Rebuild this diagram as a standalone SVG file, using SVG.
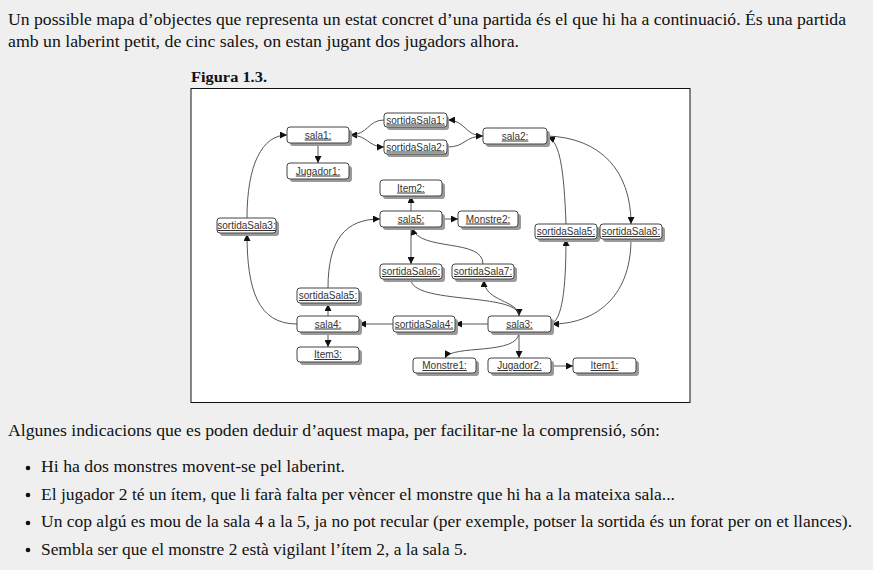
<svg xmlns="http://www.w3.org/2000/svg" width="873" height="570" viewBox="0 0 873 570">
<style>
.pg{font-family:"Liberation Serif","DejaVu Serif",serif;font-size:16px;fill:#111}
.fig{font-family:"Liberation Serif","DejaVu Serif",serif;font-size:14.5px;font-weight:bold;fill:#111}
.box{fill:#fff;stroke:#444;stroke-width:1}
.sh{fill:#9a9a9a}
.lb{font-family:"Liberation Sans",Arial,sans-serif;font-size:10px;fill:#333;text-anchor:middle;text-decoration:underline}
.c{fill:none;stroke:#444;stroke-width:0.9}
</style>
<defs>
<marker id="ar" viewBox="0 0 8 8" refX="8" refY="4" markerWidth="7" markerHeight="7" markerUnits="userSpaceOnUse" orient="auto">
<path d="M0,0 L8,4 L0,8 z" fill="#111"/>
</marker>
</defs>
<rect width="873" height="570" fill="#efefef"/>
<text class="pg" x="8" y="25" textLength="838" lengthAdjust="spacingAndGlyphs">Un possible mapa d’objectes que representa un estat concret d’una partida és el que hi ha a continuació. És una partida</text>
<text class="pg" x="8" y="47" textLength="511" lengthAdjust="spacingAndGlyphs">amb un laberint petit, de cinc sales, on estan jugant dos jugadors alhora.</text>
<text class="fig" x="191" y="82" textLength="76" lengthAdjust="spacingAndGlyphs">Figura 1.3.</text>
<rect x="191" y="88.5" width="499" height="314" fill="#fff" stroke="#111" stroke-width="1"/>

<g id="connectors">
<path class="c" marker-end="url(#ar)" d="M318,143 L318,163"/>
<path class="c" marker-end="url(#ar)" d="M384,120 C368,120 368,135 350,135"/>
<path class="c" marker-end="url(#ar)" d="M350,135 C368,135 368,147 384,147"/>
<path class="c" marker-end="url(#ar)" d="M483,136 C465,136 465,120 448,120"/>
<path class="c" marker-end="url(#ar)" d="M448,147 C465,147 465,136 483,136"/>
<path class="c" marker-end="url(#ar)" d="M247,218 C247,165 262,135 287,135"/>
<path class="c" marker-end="url(#ar)" d="M297,324 C258,324 247,290 247,234"/>
<path class="c" marker-end="url(#ar)" d="M328,316 L328,304"/>
<path class="c" marker-end="url(#ar)" d="M328,288 C328,240 345,219 380,219"/>
<path class="c" marker-end="url(#ar)" d="M328,332 L328,347"/>
<path class="c" marker-end="url(#ar)" d="M393,324 L359,324"/>
<path class="c" marker-end="url(#ar)" d="M488,324 L455,324"/>
<path class="c" marker-end="url(#ar)" d="M411,211 L411,196"/>
<path class="c" marker-end="url(#ar)" d="M442,219 L458,219"/>
<path class="c" marker-end="url(#ar)" d="M411,227 L411,264"/>
<path class="c" marker-end="url(#ar)" d="M483,264 C483,238 420,252 412,228"/>
<path class="c" marker-end="url(#ar)" d="M411,279 C411,305 519,292 519,316"/>
<path class="c" marker-end="url(#ar)" d="M519,316 C519,300 484,302 484,280"/>
<path class="c" marker-end="url(#ar)" d="M551,324 C562,320 566,290 566,239"/>
<path class="c" marker-end="url(#ar)" d="M566,224 C564,170 560,142 548,137"/>
<path class="c" marker-end="url(#ar)" d="M548,136 C600,138 631,170 631,224"/>
<path class="c" marker-end="url(#ar)" d="M631,239 C631,300 592,324 552,324"/>
<path class="c" marker-end="url(#ar)" d="M519,332 C519,356 452,344 445,358"/>
<path class="c" marker-end="url(#ar)" d="M519,332 L519,358"/>
<path class="c" marker-end="url(#ar)" d="M551,366 L573,366"/>
</g>

<g id="sala1"><rect class="sh" x="290" y="130" width="62" height="16" rx="3"/><rect class="box" x="287" y="127" width="62" height="16" rx="3"/><text class="lb" x="318" y="138.5">sala1:</text></g>
<g id="jugador1"><rect class="sh" x="290" y="166" width="62" height="16" rx="3"/><rect class="box" x="287" y="163" width="62" height="16" rx="3"/><text class="lb" x="318" y="174.5">Jugador1:</text></g>
<g id="sortidaSala1"><rect class="sh" x="387" y="116" width="62" height="14" rx="3"/><rect class="box" x="384" y="113" width="63" height="14" rx="3"/><text class="lb" x="415.5" y="123.5">sortidaSala1:</text></g>
<g id="sortidaSala2"><rect class="sh" x="387" y="143" width="62" height="14" rx="3"/><rect class="box" x="384" y="140" width="63" height="14" rx="3"/><text class="lb" x="415.5" y="150.5">sortidaSala2:</text></g>
<g id="sala2"><rect class="sh" x="486" y="131" width="64" height="16" rx="3"/><rect class="box" x="483" y="128" width="64" height="16" rx="3"/><text class="lb" x="515" y="139.5">sala2:</text></g>
<g id="item2"><rect class="sh" x="383" y="183" width="62" height="16" rx="3"/><rect class="box" x="380" y="180" width="62" height="16" rx="3"/><text class="lb" x="411" y="191.5">Item2:</text></g>
<g id="sala5"><rect class="sh" x="383" y="214" width="62" height="16" rx="3"/><rect class="box" x="380" y="211" width="62" height="16" rx="3"/><text class="lb" x="411" y="222.5">sala5:</text></g>
<g id="monstre2"><rect class="sh" x="461" y="214" width="60" height="16" rx="3"/><rect class="box" x="458" y="211" width="60" height="16" rx="3"/><text class="lb" x="488" y="222.5">Monstre2:</text></g>
<g id="sortidaSala3"><rect class="sh" x="220" y="221" width="59" height="15" rx="3"/><rect class="box" x="217" y="218" width="59" height="15" rx="3"/><text class="lb" x="246.5" y="229">sortidaSala3:</text></g>
<g id="sortidaSala5b"><rect class="sh" x="538" y="227" width="62" height="15" rx="3"/><rect class="box" x="535" y="224" width="62" height="15" rx="3"/><text class="lb" x="566" y="235">sortidaSala5:</text></g>
<g id="sortidaSala8"><rect class="sh" x="603" y="227" width="62" height="15" rx="3"/><rect class="box" x="600" y="224" width="62" height="15" rx="3"/><text class="lb" x="631" y="235">sortidaSala8:</text></g>
<g id="sortidaSala6"><rect class="sh" x="383" y="267" width="62" height="15" rx="3"/><rect class="box" x="380" y="264" width="62" height="15" rx="3"/><text class="lb" x="411" y="275">sortidaSala6:</text></g>
<g id="sortidaSala7"><rect class="sh" x="455" y="267" width="62" height="15" rx="3"/><rect class="box" x="452" y="264" width="62" height="15" rx="3"/><text class="lb" x="483" y="275">sortidaSala7:</text></g>
<g id="sortidaSala5a"><rect class="sh" x="300" y="291" width="62" height="15" rx="3"/><rect class="box" x="297" y="288" width="62" height="15" rx="3"/><text class="lb" x="328" y="299">sortidaSala5:</text></g>
<g id="sala4"><rect class="sh" x="300" y="319" width="62" height="16" rx="3"/><rect class="box" x="297" y="316" width="62" height="16" rx="3"/><text class="lb" x="328" y="327.5">sala4:</text></g>
<g id="sortidaSala4"><rect class="sh" x="396" y="319" width="62" height="16" rx="3"/><rect class="box" x="393" y="316" width="62" height="16" rx="3"/><text class="lb" x="424" y="327.5">sortidaSala4:</text></g>
<g id="sala3"><rect class="sh" x="491" y="319" width="63" height="16" rx="3"/><rect class="box" x="488" y="316" width="63" height="16" rx="3"/><text class="lb" x="519.5" y="327.5">sala3:</text></g>
<g id="item3"><rect class="sh" x="300" y="350" width="62" height="15" rx="3"/><rect class="box" x="297" y="347" width="62" height="15" rx="3"/><text class="lb" x="328" y="358">Item3:</text></g>
<g id="monstre1"><rect class="sh" x="416" y="361" width="63" height="15" rx="3"/><rect class="box" x="413" y="358" width="63" height="15" rx="3"/><text class="lb" x="444.5" y="369">Monstre1:</text></g>
<g id="jugador2"><rect class="sh" x="491" y="361" width="63" height="15" rx="3"/><rect class="box" x="488" y="358" width="63" height="15" rx="3"/><text class="lb" x="519.5" y="369">Jugador2:</text></g>
<g id="item1"><rect class="sh" x="576" y="361" width="63" height="15" rx="3"/><rect class="box" x="573" y="358" width="63" height="15" rx="3"/><text class="lb" x="604.5" y="369">Item1:</text></g>

<text class="pg" x="8" y="436" textLength="652" lengthAdjust="spacingAndGlyphs">Algunes indicacions que es poden deduir d’aquest mapa, per facilitar-ne la comprensió, són:</text>
<circle cx="28" cy="468" r="2.3" fill="#111"/>
<text class="pg" x="41" y="472" textLength="304" lengthAdjust="spacingAndGlyphs">Hi ha dos monstres movent-se pel laberint.</text>
<circle cx="28" cy="495" r="2.3" fill="#111"/>
<text class="pg" x="41" y="500" textLength="634" lengthAdjust="spacingAndGlyphs">El jugador 2 té un ítem, que li farà falta per vèncer el monstre que hi ha a la mateixa sala...</text>
<circle cx="28" cy="523" r="2.3" fill="#111"/>
<text class="pg" x="41" y="527" textLength="811" lengthAdjust="spacingAndGlyphs">Un cop algú es mou de la sala 4 a la 5, ja no pot recular (per exemple, potser la sortida és un forat per on et llances).</text>
<circle cx="28" cy="550" r="2.3" fill="#111"/>
<text class="pg" x="41" y="555" textLength="426" lengthAdjust="spacingAndGlyphs">Sembla ser que el monstre 2 està vigilant l’ítem 2, a la sala 5.</text>
</svg>
